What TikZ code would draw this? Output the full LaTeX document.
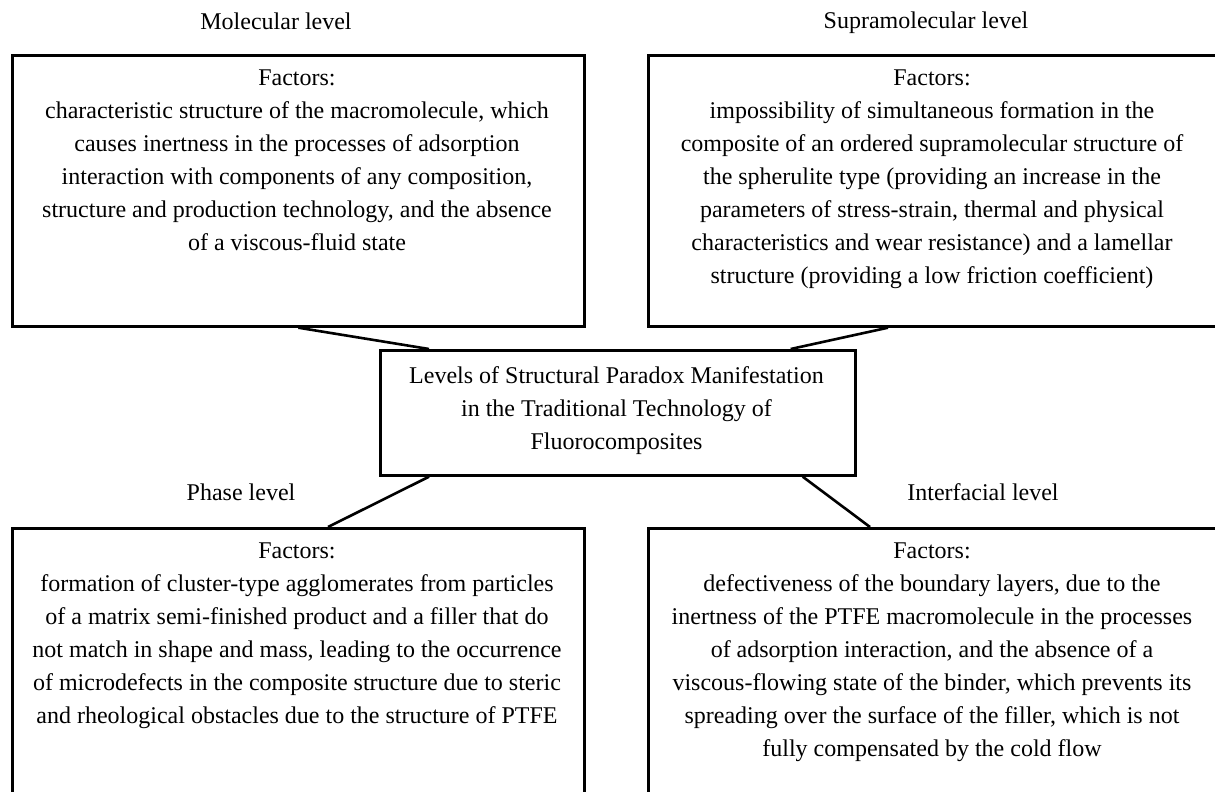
\documentclass[tikz,border=0pt]{standalone}
\usepackage{fontspec}
\setmainfont{Liberation Serif}
\begin{document}
\begin{tikzpicture}[x=1pt,y=-1pt,
  box/.style={draw, line width=2.7pt, rectangle, inner sep=0pt, anchor=north west},
  txt/.style={anchor=north, align=center, inner sep=0pt, font=\fontsize{24}{33}\selectfont},
  lbl/.style={anchor=base, inner sep=0pt, font=\fontsize{24}{33}\selectfont},
  conn/.style={line width=2.6pt}]
\useasboundingbox (0,0) rectangle (1215,792);
\clip (0,0) rectangle (1215,792);
\fill[white] (0,0) rectangle (1215,792);
% boxes
\node[box, minimum width=572pt, minimum height=271pt] (tl) at (11,54) {};
\node[box, minimum width=570pt, minimum height=271pt] (tr) at (647,54) {};
\node[box, minimum width=475pt, minimum height=125pt] (c) at (379,349) {};
\node[box, minimum width=572pt, minimum height=275pt] (bl) at (11,527) {};
\node[box, minimum width=570pt, minimum height=275pt] (br) at (647,527) {};
% level labels
\node[lbl] (ltl) at (276,30) {Molecular level};
\node[lbl] (ltr) at (926,29) {Supramolecular level};
\node[lbl] (lbl) at (241,500) {Phase level};
\node[lbl] (lbr) at (983,500) {Interfacial level};
% texts
\node[txt] (ttl) at (297,69.6) {Factors:\\
characteristic structure of the macromolecule, which\\
causes inertness in the processes of adsorption\\
interaction with components of any composition,\\
structure and production technology, and the absence\\
of a viscous-fluid state};
\node[txt] (ttr) at (932,69.6) {Factors:\\
impossibility of simultaneous formation in the\\
composite of an ordered supramolecular structure of\\
the spherulite type (providing an increase in the\\
parameters of stress-strain, thermal and physical\\
characteristics and wear resistance) and a lamellar\\
structure (providing a low friction coefficient)};
\node[txt] (tc) at (616.5,366.6) {Levels of Structural Paradox Manifestation\\
in the Traditional Technology of\\
Fluorocomposites};
\node[txt] (tbl) at (297,542.6) {Factors:\\
formation of cluster-type agglomerates from particles\\
of a matrix semi-finished product and a filler that do\\
not match in shape and mass, leading to the occurrence\\
of microdefects in the composite structure due to steric\\
and rheological obstacles due to the structure of PTFE};
\node[txt] (tbr) at (932,542.6) {Factors:\\
defectiveness of the boundary layers, due to the\\
inertness of the PTFE macromolecule in the processes\\
of adsorption interaction, and the absence of a\\
viscous-flowing state of the binder, which prevents its\\
spreading over the surface of the filler, which is not\\
fully compensated by the cold flow};
% connectors
\draw[conn] (tl.south) -- ([xshift=50pt]c.north west);
\draw[conn] ([xshift=241pt]tr.south west) -- ([xshift=-66pt]c.north east);
\draw[conn] ([xshift=50pt]c.south west) -- ([xshift=317pt]bl.north west);
\draw[conn] ([xshift=-54pt]c.south east) -- ([xshift=223pt]br.north west);
\end{tikzpicture}
\end{document}
